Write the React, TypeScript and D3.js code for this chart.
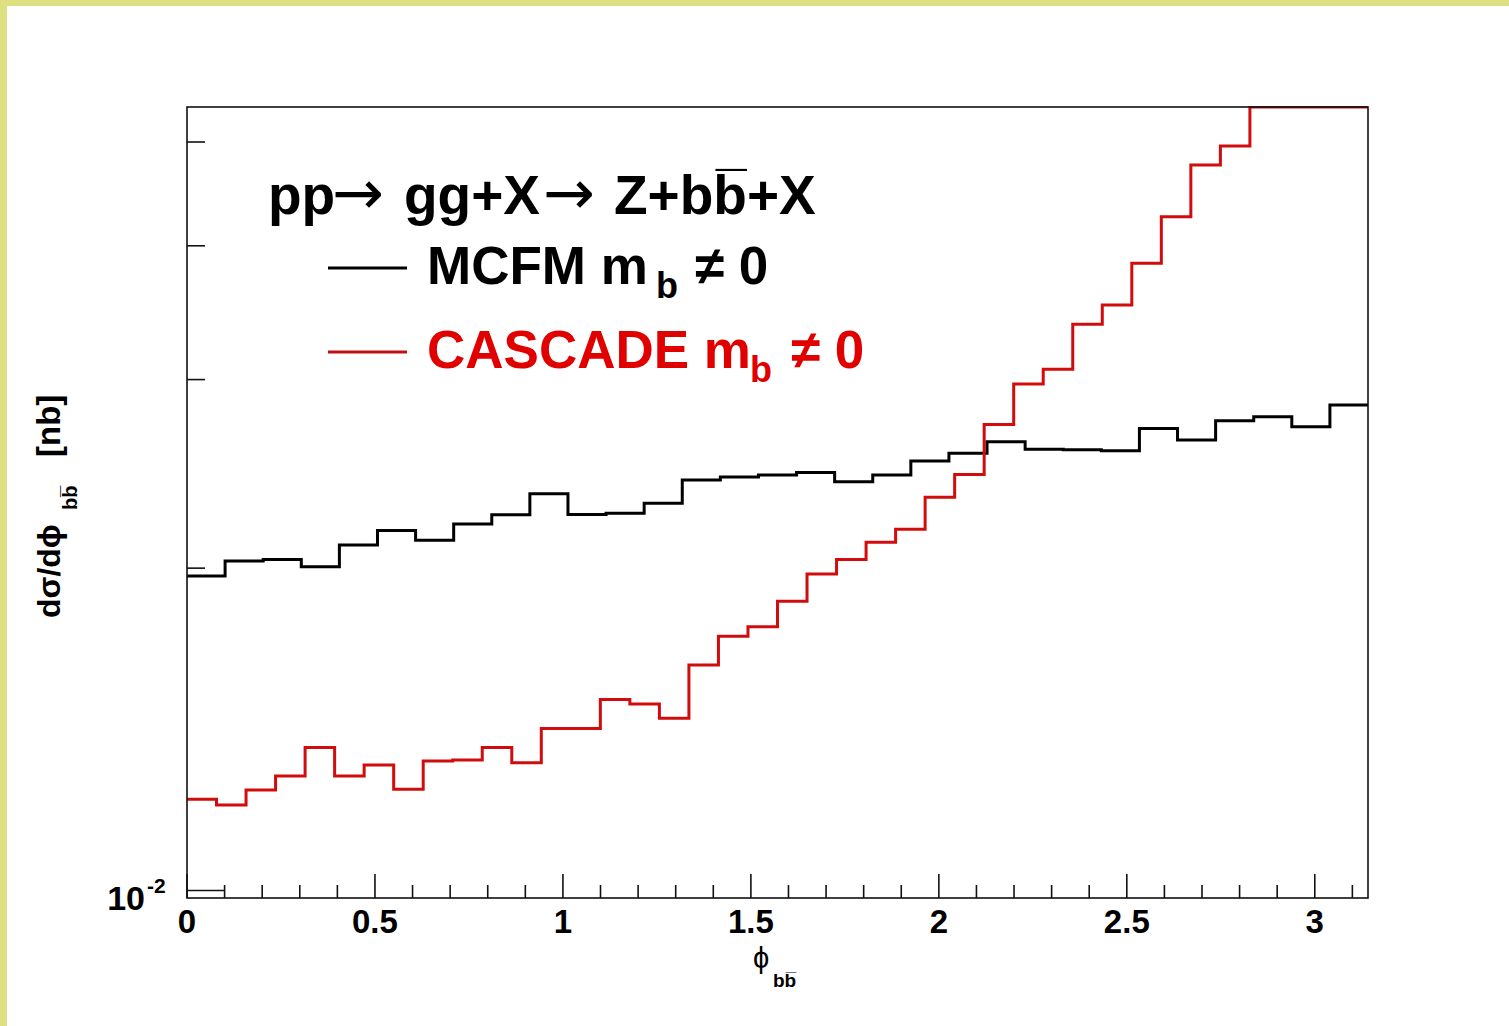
import React from "react";
import * as d3 from "d3";

// ---- data ----
const mcfmValues = [
  0.01966, 0.02031, 0.02038, 0.02006, 0.02102, 0.02169, 0.02124, 0.02199,
  0.02243, 0.02347, 0.02244, 0.0225, 0.02299, 0.02417, 0.02433, 0.02443,
  0.02457, 0.02408, 0.02443, 0.02518, 0.02561, 0.02624, 0.02582, 0.0258,
  0.02574, 0.02701, 0.02634, 0.02746, 0.02769, 0.0271, 0.0284,
];
const cascadeValues = [
  0.01217, 0.01202, 0.01241, 0.01279, 0.0136, 0.01279, 0.0131, 0.01243,
  0.01321, 0.01324, 0.0136, 0.01316, 0.01417, 0.01417, 0.01508, 0.01493,
  0.01448, 0.01624, 0.01728, 0.01763, 0.01863, 0.01975, 0.02038, 0.02114,
  0.02175, 0.02329, 0.02446, 0.02724, 0.02972, 0.03067, 0.03379, 0.03522,
  0.03852, 0.04257, 0.04759, 0.04957, 0.056, 0.058, 0.059, 0.061,
];
const xMajorTicks = [0, 0.5, 1, 1.5, 2, 2.5, 3];
const xMajorLabels = ["0", "0.5", "1", "1.5", "2", "2.5", "3"];
const xMinorTicks = [
  0.1, 0.2, 0.3, 0.4, 0.6, 0.7, 0.8, 0.9, 1.1, 1.2, 1.3, 1.4, 1.6, 1.7, 1.8,
  1.9, 2.1, 2.2, 2.3, 2.4, 2.6, 2.7, 2.8, 2.9, 3.1,
];
const yMajorTicks = [0.01];
const yMinorTicks = [0.02, 0.03, 0.04, 0.05];
const xDomain = [0, Math.PI];
const yDomain = [0.00984, 0.05391];

const W = 1509;
const H = 1026;
const L = 187, R = 1368, T = 107, B = 898;
const FONT = "'Liberation Sans', Arial, Helvetica, sans-serif";
const ARROW_FONT = "'DejaVu Sans', sans-serif";

function histPath(values: number[], x: any, y: any) {
  const n = values.length;
  const edges = d3.range(n + 1).map((i) => xDomain[0] + ((xDomain[1] - xDomain[0]) * i) / n);
  const pts: [number, number][] = values.map((v, i) => [edges[i], v]);
  pts.push([edges[n], values[n - 1]]);
  const line = d3
    .line<[number, number]>()
    .x((d) => x(d[0]))
    .y((d) => y(d[1]))
    .curve(d3.curveStepAfter);
  return line(pts) || "";
}

export default function App() {
  const x = d3.scaleLinear().domain(xDomain).range([L, R]);
  const y = d3.scaleLog().domain(yDomain).range([B, T]).clamp(true);

  return (
    <svg
      width={W}
      height={H}
      style={{ position: "absolute", left: 0, top: 0, background: "#fff" }}
      fontFamily={FONT}
    >
      <rect x={0} y={0} width={W} height={H} fill="#ffffff" />
      <rect x={0} y={0} width={7} height={H} fill="#dee082" />
      <rect x={0} y={0} width={W} height={6} fill="#dee082" />

      <clipPath id="frameClip">
        <rect x={L} y={T - 1} width={R - L} height={B - T + 2} />
      </clipPath>

      {/* histograms */}
      <g clipPath="url(#frameClip)">
        <path d={histPath(mcfmValues, x, y)} fill="none" stroke="#000" strokeWidth={3} />
        <path d={histPath(cascadeValues, x, y)} fill="none" stroke="#d00c0c" strokeWidth={3} />
      </g>

      {/* frame */}
      <rect x={L} y={T} width={R - L} height={B - T} fill="none" stroke="#111" strokeWidth={1.6} />

      {/* x ticks */}
      {xMajorTicks.map((t) => (
        <line key={"xM" + t} x1={x(t)} x2={x(t)} y1={B} y2={B - 24} stroke="#111" strokeWidth={1.6} />
      ))}
      {xMinorTicks.map((t) => (
        <line key={"xm" + t} x1={x(t)} x2={x(t)} y1={B} y2={B - 13} stroke="#111" strokeWidth={1.6} />
      ))}
      {xMajorTicks.map((t, i) => (
        <text key={"xl" + t} x={x(t)} y={933} fontSize={33} fontWeight="bold" textAnchor="middle" fill="#000">
          {xMajorLabels[i]}
        </text>
      ))}

      {/* y ticks */}
      {yMajorTicks.map((t) => (
        <line key={"yM" + t} x1={L} x2={L + 37} y1={y(t)} y2={y(t)} stroke="#111" strokeWidth={1.6} />
      ))}
      {yMinorTicks.map((t) => (
        <line key={"ym" + t} x1={L} x2={L + 18} y1={y(t)} y2={y(t)} stroke="#111" strokeWidth={1.6} />
      ))}
      <text x={145} y={910} fontSize={34} fontWeight="bold" textAnchor="end" fill="#000">10</text>
      <text x={147} y={893} fontSize={21} fontWeight="bold" fill="#000">-2</text>

      {/* x axis title */}
      <text x={761} y={968} fontSize={29} textAnchor="middle" fill="#000">{"\u03D5"}</text>
      <text x={773} y={987} fontSize={19} fontWeight="bold" fill="#000">{"bb\u0305"}</text>

      {/* y axis title */}
      <g transform="translate(60,618) rotate(-90)">
        <text x={0} y={0} fontSize={32} fontWeight="bold" fill="#000">
          {"d\u03C3/d\u03D5"}
        </text>
        <text x={108} y={17} fontSize={20} fontWeight="bold" fill="#000">{"bb\u0305"}</text>
        <text x={161} y={0} fontSize={33} fontWeight="bold" fill="#000">[nb]</text>
      </g>

      {/* legend / title text */}
      <g fontSize={55} fontWeight="bold" fill="#000">
        <text x={268} y={214}>pp</text>
        <text x={332} y={214} fontFamily={ARROW_FONT} fontWeight="normal" fontSize={62}>{"\u2192"}</text>
        <text x={404} y={214}>gg+X</text>
        <text x={543} y={214} fontFamily={ARROW_FONT} fontWeight="normal" fontSize={62}>{"\u2192"}</text>
        <text x={614} y={214}>{"Z+bb\u0305+X"}</text>
      </g>

      <line x1={328} x2={407} y1={268} y2={268} stroke="#000" strokeWidth={3} />
      <text x={427} y={284} fontSize={53} fontWeight="bold" fill="#000">MCFM m</text>
      <text x={656} y={298} fontSize={36} fontWeight="bold" fill="#000">b</text>
      <text x={695} y={284} fontSize={53} fontWeight="bold" fill="#000">{"\u2260 0"}</text>

      <line x1={328} x2={407} y1={352} y2={352} stroke="#c01010" strokeWidth={3} />
      <text x={427} y={368} fontSize={53} fontWeight="bold" fill="#e00000">CASCADE m</text>
      <text x={750} y={382} fontSize={36} fontWeight="bold" fill="#e00000">b</text>
      <text x={791} y={368} fontSize={53} fontWeight="bold" fill="#e00000">{"\u2260 0"}</text>
    </svg>
  );
}
